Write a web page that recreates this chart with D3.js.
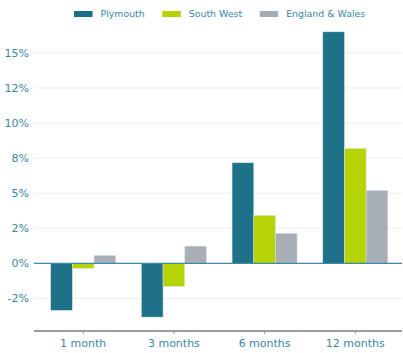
<!DOCTYPE html>
<html>
<head>
<meta charset="utf-8">
<script src="https://cdn.jsdelivr.net/npm/d3@7"></script>
<style>
  html, body { margin: 0; padding: 0; background: #fff; }
  svg { display: block; font-family: "DejaVu Sans", sans-serif; }
</style>
</head>
<body>
<svg id="chart" width="403" height="353"></svg>
<script>
// Price change by period, in percent
const periods = ["1 month", "3 months", "6 months", "12 months"];
const seriesNames = ["Plymouth", "South West", "England & Wales"];
const plymouth = [-3.35, -3.83, 7.17, 16.5];
const southWest = [-0.36, -1.64, 3.42, 8.19];
const englandWales = [0.57, 1.23, 2.14, 5.2];
const tickValues = [-2.5, 0, 2.5, 5, 7.5, 10, 12.5, 15];
const tickLabels = ["-2%", "0%", "2%", "5%", "8%", "10%", "12%", "15%"];
const colors = ["#1b6e87", "#b5d300", "#a6adb2"];

const series = [plymouth, southWest, englandWales];
const svg = d3.select("#chart");
const textColor = "#3a86a0";

const plot = { left: 34, right: 402, top: 22, bottom: 331 };

const y = d3.scaleLinear().domain([-4.82, 17.2]).range([plot.bottom, plot.top]);
const x0 = d3.scaleBand().domain(periods).range([37.85, 400.65])
  .paddingInner(0.283).paddingOuter(0.1415);
const x1 = d3.scaleBand().domain(seriesNames).range([0, x0.bandwidth()]);

// Horizontal gridlines with labels
const yAxis = svg.append("g");
yAxis.selectAll("line").data(tickValues).join("line")
  .attr("x1", plot.left).attr("x2", plot.right)
  .attr("y1", d => y(d)).attr("y2", d => y(d))
  .attr("stroke", "#eeeeee").attr("stroke-width", 1);
yAxis.selectAll("text").data(tickValues).join("text")
  .attr("x", 29).attr("y", d => y(d)).attr("dy", "0.35em")
  .attr("text-anchor", "end").attr("font-size", 11).attr("fill", textColor)
  .text((d, i) => tickLabels[i]);

// Bars
const groups = svg.append("g").selectAll("g").data(periods).join("g")
  .attr("transform", d => `translate(${x0(d)},0)`);
groups.selectAll("rect")
  .data((p, i) => seriesNames.map((s, j) => ({ s, v: series[j][i], c: colors[j] })))
  .join("rect")
  .attr("x", d => x1(d.s))
  .attr("width", x1.bandwidth())
  .attr("y", d => y(Math.max(0, d.v)))
  .attr("height", d => Math.abs(y(d.v) - y(0)))
  .attr("fill", d => d.c)
  .attr("fill-opacity", 0.98)
  .attr("stroke", "#d8e8ee").attr("stroke-width", 0.6).attr("stroke-opacity", 0.8);

// Zero line
svg.append("line")
  .attr("x1", plot.left).attr("x2", plot.right)
  .attr("y1", y(0)).attr("y2", y(0))
  .attr("stroke", "#3f8aa5").attr("stroke-width", 1.1);

// Category axis
const xAxis = svg.append("g").attr("transform", `translate(0,${plot.bottom})`);
xAxis.append("line").attr("x1", plot.left).attr("x2", plot.right)
  .attr("stroke", "#3a3a3a").attr("stroke-width", 1.2);
xAxis.selectAll("line.tick").data(periods).join("line").attr("class", "tick")
  .attr("x1", d => x0(d) + x0.bandwidth() / 2).attr("x2", d => x0(d) + x0.bandwidth() / 2)
  .attr("y1", 0).attr("y2", 3).attr("stroke", "#6a9fb2").attr("stroke-width", 1);
xAxis.selectAll("text").data(periods).join("text")
  .attr("x", d => x0(d) + x0.bandwidth() / 2).attr("y", 15.7)
  .attr("text-anchor", "middle").attr("font-size", 11).attr("fill", textColor)
  .text(d => d);

// Legend
const legendX = [74, 162.3, 259.7];
const legend = svg.append("g").selectAll("g").data(seriesNames).join("g")
  .attr("transform", (d, i) => `translate(${legendX[i]},0)`);
legend.append("rect").attr("x", 0).attr("y", 11).attr("width", 18.5).attr("height", 6)
  .attr("fill", (d, i) => colors[i]);
legend.append("text").attr("x", 26.5).attr("y", 14).attr("dy", "0.35em")
  .attr("font-size", 9.4).attr("fill", textColor).text(d => d);
</script>
</body>
</html>
